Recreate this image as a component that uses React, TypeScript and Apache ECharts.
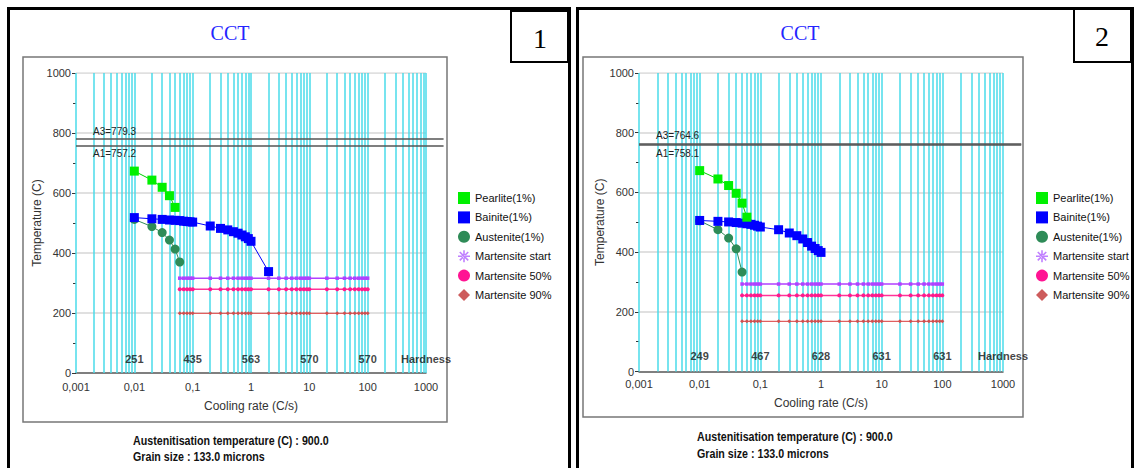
import React, { useEffect, useRef } from "react";
import * as echarts from "echarts";

// ---------- data: chart 1 ----------
const PEARLITE_X_1 = [0.01, 0.02, 0.03, 0.04, 0.05];
const PEARLITE_T_1 = [673, 643, 619, 591, 552];
const BAINITE_X_1 = [0.01, 0.02, 0.03, 0.04, 0.05, 0.06, 0.07, 0.08, 0.09, 0.1, 0.2, 0.3, 0.4, 0.5, 0.6, 0.7, 0.8, 0.9, 1, 2];
const BAINITE_T_1 = [518, 514, 512, 510, 509, 508, 506, 505, 504, 503, 490, 482, 477, 471, 466, 460, 454, 448, 439, 338];
const AUSTENITE_X_1 = [0.01, 0.02, 0.03, 0.04, 0.05, 0.06];
const AUSTENITE_T_1 = [512, 488, 468, 443, 413, 370];
const MART_X_1 = [0.06, 0.07, 0.08, 0.09, 0.1, 0.2, 0.3, 0.4, 0.5, 0.6, 0.7, 0.8, 0.9, 1, 2, 3, 4, 5, 6, 7, 8, 9, 10, 20, 30, 40, 50, 60, 70, 80, 90, 100];
const MS_1 = 316;
const M50_1 = 279;
const M90_1 = 199;
const A3_1 = 779.3;
const A1_1 = 757.2;
const HARDNESS_1 = [251, 435, 563, 570, 570];

// ---------- data: chart 2 ----------
const PEARLITE_X_2 = [0.01, 0.02, 0.03, 0.04, 0.05, 0.06];
const PEARLITE_T_2 = [673, 645, 623, 597, 564, 517];
const BAINITE_X_2 = [0.01, 0.02, 0.03, 0.04, 0.05, 0.06, 0.07, 0.08, 0.09, 0.1, 0.2, 0.3, 0.4, 0.5, 0.6, 0.7, 0.8, 0.9, 1];
const BAINITE_T_2 = [506, 503, 501, 499, 497, 495, 493, 490, 487, 484, 475, 464, 455, 444, 432, 420, 412, 405, 399];
const AUSTENITE_X_2 = [0.01, 0.02, 0.03, 0.04, 0.05];
const AUSTENITE_T_2 = [505, 475, 447, 411, 333];
const MART_X_2 = [0.05, 0.06, 0.07, 0.08, 0.09, 0.1, 0.2, 0.3, 0.4, 0.5, 0.6, 0.7, 0.8, 0.9, 1, 2, 3, 4, 5, 6, 7, 8, 9, 10, 20, 30, 40, 50, 60, 70, 80, 90, 100];
const MS_2 = 293;
const M50_2 = 255;
const M90_2 = 168;
const A3_2 = 764.6;
const A1_2 = 758.1;
const HARDNESS_2 = [249, 467, 628, 631, 631];

// ---------- shared ----------
const HARDNESS_X = [0.01, 0.1, 1, 10, 100];
const HARDNESS_LABEL_X = 1000;
const HARDNESS_LABEL = "Hardness";
const HARDNESS_ROW_T = [48, 52];
const X_TICK_LABELS = ["0,001", "0,01", "0,1", "1", "10", "100", "1000"];
const Y_GRID_T = [200, 400, 600, 800, 1000];
const A_LINE_X = [0.001, 2000];
const LEGEND_NAMES = ["Pearlite(1%)", "Bainite(1%)", "Austenite(1%)", "Martensite start", "Martensite 50%", "Martensite 90%"];
const AUSTENITISATION = "Austenitisation temperature (C) : 900.0";
const GRAIN = "Grain size : 133.0 microns";

const CYAN = "#4adbea";
const STAR =
  "path://M3.67,4.81L-4.81,-3.67L-3.67,-4.81L4.81,3.67Z M-3.67,4.81L4.81,-3.67L3.67,-4.81L-4.81,3.67Z M-0.8,-6L0.8,-6L0.8,6L-0.8,6Z M-6,-0.8L6,-0.8L6,0.8L-6,0.8Z";

const GRID_LINES_X: number[] = (() => {
  const out: number[] = [];
  for (let e = -3; e < 3; e++) for (let k = 1; k < 10; k++) out.push(+(k * Math.pow(10, e)).toPrecision(3));
  out.push(1000);
  return out;
})();

const pairs = (xs: number[], ys: number[]) => xs.map((x, i) => [x, ys[i]]);
const flat = (xs: number[], t: number) => xs.map((x) => [x, t]);

const SANS = "Liberation Sans, Arial, sans-serif";
const SERIF = "Liberation Serif, Times New Roman, serif";

const GRIDS = [
  { left: 76, top: 73, width: 350, height: 300 },
  { left: 639, top: 73, width: 364, height: 298.5 },
];

function buildSeries(i: number) {
  const d =
    i === 0
      ? { px: PEARLITE_X_1, pt: PEARLITE_T_1, bx: BAINITE_X_1, bt: BAINITE_T_1, ax: AUSTENITE_X_1, at: AUSTENITE_T_1, mx: MART_X_1, ms: MS_1, m50: M50_1, m90: M90_1, a3: A3_1, a1: A1_1, h: HARDNESS_1 }
      : { px: PEARLITE_X_2, pt: PEARLITE_T_2, bx: BAINITE_X_2, bt: BAINITE_T_2, ax: AUSTENITE_X_2, at: AUSTENITE_T_2, mx: MART_X_2, ms: MS_2, m50: M50_2, m90: M90_2, a3: A3_2, a1: A1_2, h: HARDNESS_2 };
  const common = { xAxisIndex: i, yAxisIndex: i, animation: false };
  return [
    {
      ...common,
      name: "hgrid-" + i,
      type: "lines",
      coordinateSystem: "cartesian2d",
      silent: true,
      z: 0,
      lineStyle: { color: "#d6d6d6", width: 1.5, opacity: 1 },
      data: Y_GRID_T.map((t) => ({ coords: [[0.001, t], [1000, t]] })),
    },
    {
      ...common,
      name: "vgrid-" + i,
      type: "lines",
      coordinateSystem: "cartesian2d",
      silent: true,
      z: 1,
      lineStyle: { color: CYAN, width: 1.5, opacity: 1 },
      data: GRID_LINES_X.map((v) => ({ coords: [[v, 0], [v, 1000]] })),
    },
    {
      ...common,
      name: "A-" + i,
      type: "lines",
      coordinateSystem: "cartesian2d",
      silent: true,
      clip: false,
      z: 2,
      lineStyle: { color: "#555", width: 1.5, opacity: 1 },
      label: { show: true, fontSize: 10, color: "#222", fontFamily: SANS },
      data: [
        {
          coords: [[A_LINE_X[0], d.a3], [A_LINE_X[1], d.a3]],
          label: { formatter: "A3=" + d.a3, position: "insideStartTop", distance: [17, 3] },
        },
        {
          coords: [[A_LINE_X[0], d.a1], [A_LINE_X[1], d.a1]],
          label: { formatter: "A1=" + d.a1, position: "insideStartBottom", distance: [17, 3] },
        },
      ],
    },
    {
      ...common,
      name: LEGEND_NAMES[3],
      type: "line",
      z: 3,
      data: flat(d.mx, d.ms),
      symbol: "rect",
      symbolSize: 3.5,
      itemStyle: { color: "#b040ff" },
      lineStyle: { color: "#b040ff", width: 1.5 },
    },
    {
      ...common,
      name: LEGEND_NAMES[4],
      type: "line",
      z: 3,
      data: flat(d.mx, d.m50),
      symbol: "circle",
      symbolSize: 4,
      itemStyle: { color: "#ff1a8c" },
      lineStyle: { color: "#ff3399", width: 1.5 },
    },
    {
      ...common,
      name: LEGEND_NAMES[5],
      type: "line",
      z: 3,
      data: flat(d.mx, d.m90),
      symbol: "diamond",
      symbolSize: 4,
      itemStyle: { color: "#d05050" },
      lineStyle: { color: "#e06060", width: 1.2 },
    },
    {
      ...common,
      name: LEGEND_NAMES[2],
      type: "line",
      z: 4,
      data: pairs(d.ax, d.at),
      symbol: "circle",
      symbolSize: 9,
      itemStyle: { color: "#2e8b57" },
      lineStyle: { color: "#2e8b57", width: 1 },
    },
    {
      ...common,
      name: LEGEND_NAMES[1],
      type: "line",
      z: 5,
      data: pairs(d.bx, d.bt),
      symbol: "rect",
      symbolSize: 9,
      itemStyle: { color: "#0000ff" },
      lineStyle: { color: "#0000ff", width: 1 },
    },
    {
      ...common,
      name: LEGEND_NAMES[0],
      type: "line",
      z: 6,
      data: pairs(d.px, d.pt),
      symbol: "rect",
      symbolSize: 9,
      itemStyle: { color: "#00f000" },
      lineStyle: { color: "#00d000", width: 1 },
    },
    {
      ...common,
      name: "hardness-" + i,
      type: "scatter",
      z: 7,
      symbolSize: 1,
      itemStyle: { color: "rgba(0,0,0,0)" },
      silent: true,
      data: [
        ...HARDNESS_X.map((x, j) => ({ value: [x, HARDNESS_ROW_T[i]], label: { formatter: String(d.h[j]) } })),
        { value: [HARDNESS_LABEL_X, HARDNESS_ROW_T[i]], label: { formatter: HARDNESS_LABEL } },
      ],
      label: { show: true, position: "inside", fontSize: 11, fontWeight: "bold", color: "#111", fontFamily: SANS },
    },
  ];
}

function buildOption() {
  const xAxis = [0, 1].map((i) => ({
    type: "log",
    gridIndex: i,
    logBase: 10,
    min: 0.001,
    max: 1000,
    axisLine: { show: true, lineStyle: { color: "#555", width: 1.5 } },
    axisTick: { show: false },
    splitLine: { show: false },
    axisLabel: {
      fontSize: 11,
      color: "#333",
      fontFamily: SANS,
      margin: i === 0 ? 8 : 7,
      formatter: (v: number) => X_TICK_LABELS[Math.round(Math.log10(v)) + 3],
    },
    name: "Cooling rate (C/s)",
    nameLocation: "middle",
    nameGap: i === 0 ? 27 : 25,
    nameTextStyle: { fontSize: 12, color: "#333", fontFamily: SANS },
  }));
  const yAxis = [0, 1].map((i) => ({
    type: "value",
    gridIndex: i,
    min: 0,
    max: 1000,
    interval: 200,
    axisLine: { show: false },
    axisTick: { show: true, length: 4, lineStyle: { color: "#333" } },
    minorTick: { show: true, splitNumber: 2, length: 3, lineStyle: { color: "#333" } },
    splitLine: { show: false },
    axisLabel: { fontSize: 11, color: "#333", fontFamily: SANS, margin: 5, formatter: (v: number) => String(v) },
    name: "Temperature (C)",
    nameLocation: "middle",
    nameGap: i === 0 ? 27 : 30,
    nameTextStyle: { fontSize: 12, color: "#333", fontFamily: SANS },
  }));
  const legendIcons = ["rect", "rect", "circle", STAR, "circle", "diamond"];
  const legendColors = ["#00f000", "#0000ff", "#2e8b57", "#c080ff", "#ff1493", "#cd5c5c"];
  const legend = [453, 1031].map((left) => ({
    orient: "vertical",
    left,
    top: 187,
    itemWidth: 12,
    itemHeight: 12,
    itemGap: 7.4,
    selectedMode: false,
    textStyle: { fontSize: 11, color: "#111", fontFamily: SANS },
    data: LEGEND_NAMES.map((n, j) => ({ name: n, icon: legendIcons[j], itemStyle: { color: legendColors[j] } })),
  }));

  const panelRect = (x: number, y: number, w: number, h: number, lw: number, color: string) => ({
    type: "rect",
    shape: { x, y, width: w, height: h },
    style: { fill: "none", stroke: color, lineWidth: lw },
    silent: true,
  });
  const text = (x: number, y: number, t: string, font: any, scaleX = 1) => ({
    type: "text",
    x,
    y,
    scaleX,
    silent: true,
    style: { text: t, ...font },
  });
  const boldInfo = { font: "bold 12px " + SANS, fill: "#111", align: "left", verticalAlign: "middle" };

  const graphic = [
    panelRect(8.5, 8.5, 561, 470, 3, "#000"),
    panelRect(577.5, 8.5, 555, 470, 3, "#000"),
    panelRect(23, 57, 424, 365, 1.5, "#777"),
    panelRect(583, 57, 440, 360, 1.5, "#777"),
    panelRect(511, 11, 57, 51, 2, "#000"),
    panelRect(1074, 9, 57, 53, 2, "#000"),
    text(540, 38, "1", { font: "28px " + SERIF, fill: "#000", align: "center", verticalAlign: "middle" }),
    text(1102, 36, "2", { font: "28px " + SERIF, fill: "#000", align: "center", verticalAlign: "middle" }),
    text(230, 33, "CCT", { font: "20px " + SERIF, fill: "#2424ff", align: "center", verticalAlign: "middle" }),
    text(800, 33, "CCT", { font: "20px " + SERIF, fill: "#2424ff", align: "center", verticalAlign: "middle" }),
    text(133, 441, AUSTENITISATION, boldInfo, 0.89),
    text(133, 457, GRAIN, boldInfo, 0.89),
    text(697, 437, AUSTENITISATION, boldInfo, 0.89),
    text(697, 454, GRAIN, boldInfo, 0.89),
  ];

  return {
    animation: false,
    backgroundColor: "#fff",
    grid: GRIDS,
    xAxis,
    yAxis,
    legend,
    graphic,
    series: [...buildSeries(0), ...buildSeries(1)],
  };
}

export default function App() {
  const ref = useRef<HTMLDivElement>(null);
  useEffect(() => {
    if (!ref.current) return;
    const chart = echarts.init(ref.current, undefined, { renderer: "svg" });
    chart.setOption(buildOption() as any);
    return () => chart.dispose();
  }, []);
  return <div ref={ref} style={{ position: "absolute", left: 0, top: 0, width: 1135, height: 468 }} />;
}
